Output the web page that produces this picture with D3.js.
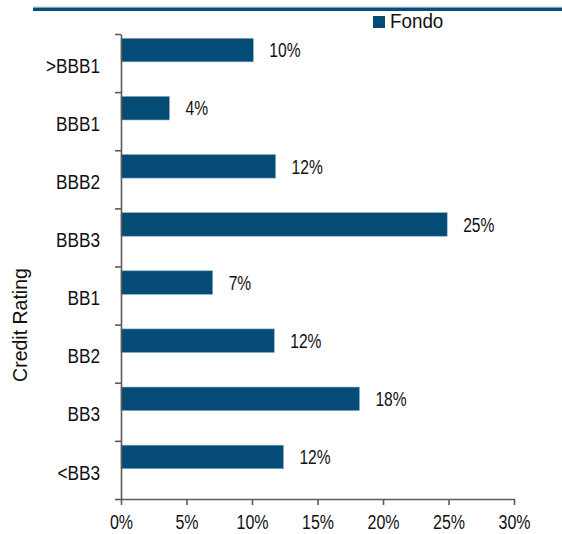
<!DOCTYPE html>
<html>
<head>
<meta charset="utf-8">
<script src="https://cdn.jsdelivr.net/npm/d3@7"></script>
<style>
  body { margin: 0; background: #fff; }
  text { font-family: "Liberation Sans", Arial, sans-serif; fill: #111; }
</style>
</head>
<body>
<div id="chart"></div>
<script>
// data
const ratings = [">BBB1", "BBB1", "BBB2", "BBB3", "BB1", "BB2", "BB3", "<BB3"];
const fondo = [0.101, 0.037, 0.118, 0.249, 0.07, 0.117, 0.182, 0.124];
const xTicks = [0, 0.05, 0.10, 0.15, 0.20, 0.25, 0.30];
const seriesName = "Fondo";
const axisTitle = "Credit Rating";

const width = 562,
      height = 534;
const barColor = "#044b76",
      axisColor = "#625955";

// the source font is narrower than Liberation Sans, so squeeze the glyphs
function squeeze(sel, k) {
  sel.each(function() {
    const w = this.getComputedTextLength();
    d3.select(this)
      .attr("textLength", w * k)
      .attr("lengthAdjust", "spacingAndGlyphs");
  });
}

const svg = d3.select("#chart")
  .append("svg")
    .attr("width", width)
    .attr("height", height);

// top rule
svg.append("rect")
  .attr("x", 33).attr("y", 6.7).attr("width", width - 33).attr("height", 1)
  .attr("fill", "#9ab6cc");
svg.append("rect")
  .attr("x", 33).attr("y", 7.7).attr("width", width - 33).attr("height", 3.3)
  .attr("fill", "#084c79");

// scales
const x = d3.scaleLinear()
    .domain([0, 0.30])
    .range([121, 514]);

const y = d3.scaleBand()
    .domain(ratings)
    .range([34, 499])
    .padding(0);

const yEdge = d3.scaleLinear()
    .domain([0, ratings.length])
    .range([34, 499]);

// bars
const barOffset = y.bandwidth() * 0.074,
      barHeight = y.bandwidth() * 0.405;

svg.append("g")
  .selectAll("rect")
  .data(ratings)
  .join("rect")
    .attr("x", x(0))
    .attr("y", d => y(d) + barOffset)
    .attr("width", (d, i) => x(fondo[i]) - x(0))
    .attr("height", barHeight)
    .attr("fill", barColor)
    .attr("stroke", "#8aaac3")
    .attr("stroke-width", 0.6);

// value labels
const valueLabels = svg.append("g")
  .selectAll("text")
  .data(ratings)
  .join("text")
    .attr("x", (d, i) => x(fondo[i]) + 16)
    .attr("y", d => y(d) + barOffset + barHeight / 2)
    .attr("dy", "0.36em")
    .attr("font-size", 20)
    .text((d, i) => Math.round(fondo[i] * 100) + "%");
squeeze(valueLabels, 0.78);

// x axis
const xAxis = svg.append("g")
  .attr("transform", "translate(0,499)")
  .call(d3.axisBottom(x)
    .tickValues(xTicks)
    .tickFormat(d3.format(".0%"))
    .tickSize(6)
    .tickSizeOuter(0)
    .tickPadding(10));

// y axis: ticks at band edges
const yAxis = svg.append("g")
  .attr("transform", "translate(121,0)")
  .call(d3.axisLeft(yEdge)
    .tickValues(d3.range(ratings.length + 1))
    .tickFormat("")
    .tickSize(6)
    .tickSizeOuter(0));

// category labels
const yLabels = svg.append("g")
  .attr("transform", "translate(121,0)")
  .call(d3.axisLeft(y).tickSize(0).tickPadding(21));
yLabels.select(".domain").remove();

[xAxis, yAxis, yLabels].forEach(g => {
  g.selectAll(".domain, line")
    .attr("stroke", axisColor)
    .attr("stroke-width", 1.6);
  g.selectAll("text")
    .attr("font-size", 20)
    .attr("font-family", null)
    .attr("fill", "#111");
});
yLabels.selectAll("text").attr("dy", "0.48em");
squeeze(xAxis.selectAll("text"), 0.8);
squeeze(yLabels.selectAll("text"), 0.86);

// axis title
svg.append("text")
  .attr("transform", "translate(27,325) rotate(-90)")
  .attr("text-anchor", "middle")
  .attr("font-size", 19.5)
  .text(axisTitle);

// legend
const legend = svg.append("g")
  .attr("transform", "translate(373,16)");
legend.append("rect")
  .attr("width", 12).attr("height", 12)
  .attr("fill", barColor);
const legendText = legend.append("text")
  .attr("x", 17).attr("y", 12.3)
  .attr("font-size", 20)
  .text(seriesName);
squeeze(legendText, 0.94);
</script>
</body>
</html>
